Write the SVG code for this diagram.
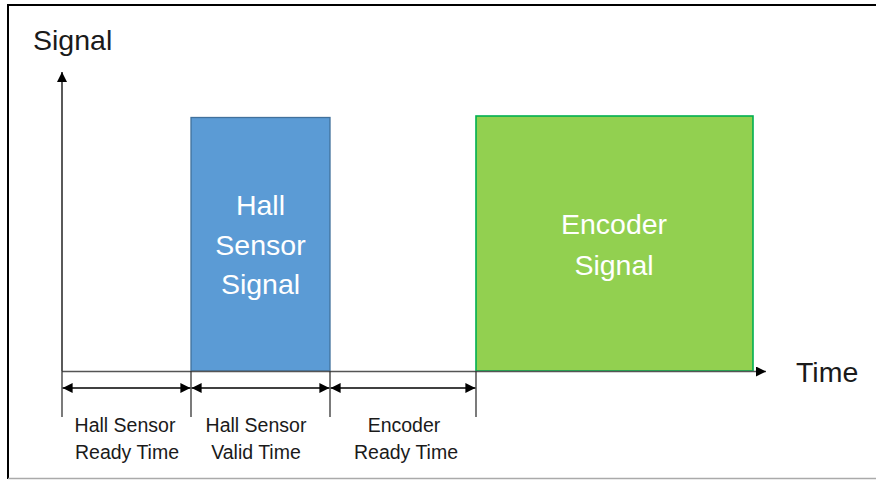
<svg xmlns="http://www.w3.org/2000/svg" width="876" height="480" viewBox="0 0 876 480">
<style>
.big{font-family:"Liberation Sans",Arial,sans-serif;font-size:28.5px;fill:#1a1a1a}
.in{font-family:"Liberation Sans",Arial,sans-serif;font-size:28.5px;fill:#ffffff;text-anchor:middle}
.lbl{font-family:"Liberation Sans",Arial,sans-serif;font-size:19.5px;fill:#1a1a1a;text-anchor:middle}
.tick{stroke:#333;stroke-width:1.3}
.dim{stroke:#000;stroke-width:1.3;marker-start:url(#ah);marker-end:url(#ah)}
</style>
<defs>
<marker id="ah" viewBox="0 0 10 10" refX="10" refY="5" markerWidth="11" markerHeight="10" markerUnits="userSpaceOnUse" orient="auto-start-reverse">
<path d="M0,0 L10,5 L0,10 Z" fill="#000"/>
</marker>
<marker id="ax" viewBox="0 0 10 10" refX="10" refY="5" markerWidth="12" markerHeight="10" markerUnits="userSpaceOnUse" orient="auto">
<path d="M0,0 L10,5 L0,10 Z" fill="#000"/>
</marker>
</defs>
<rect width="876" height="480" fill="#fff"/>
<g id="frame">
<line x1="8" y1="5" x2="876" y2="5" stroke="#000" stroke-width="2"/>
<line x1="8" y1="4" x2="8" y2="479" stroke="#000" stroke-width="2"/>
<line x1="8" y1="478.5" x2="876" y2="478.5" stroke="#aaa" stroke-width="1.5"/>
</g>
<g id="hall">
<rect x="191" y="117.5" width="139" height="253.5" fill="#5B9BD5" stroke="#41719C" stroke-width="1.3"/>
<text class="in" x="260.5" y="215">Hall</text>
<text class="in" x="260.5" y="255">Sensor</text>
<text class="in" x="260.5" y="294">Signal</text>
</g>
<g id="encoder">
<rect x="476" y="116" width="277" height="255" fill="#92D050" stroke="#00B050" stroke-width="1.6"/>
<text class="in" x="614" y="234">Encoder</text>
<text class="in" x="614" y="275">Signal</text>
</g>
<g id="connectors">
<line x1="62" y1="371" x2="62" y2="72" stroke="#000" stroke-width="1.3" marker-end="url(#ax)"/>
<line x1="62" y1="371.5" x2="766" y2="371.5" stroke="#555" stroke-width="1.3" marker-end="url(#ax)"/>
<line class="tick" x1="62" y1="371" x2="62" y2="417"/>
<line class="tick" x1="191" y1="371" x2="191" y2="417"/>
<line class="tick" x1="330" y1="371" x2="330" y2="417"/>
<line class="tick" x1="476" y1="371" x2="476" y2="417"/>
<line class="dim" x1="62.6" y1="388" x2="190.4" y2="388"/>
<line class="dim" x1="191.6" y1="388" x2="329.4" y2="388"/>
<line class="dim" x1="330.6" y1="388" x2="475.4" y2="388"/>
</g>
<g id="labels">
<text class="big" x="33" y="50">Signal</text>
<text class="big" x="796" y="382">Time</text>
<text class="lbl" x="125" y="432">Hall Sensor</text>
<text class="lbl" x="127" y="459">Ready Time</text>
<text class="lbl" x="256" y="432">Hall Sensor</text>
<text class="lbl" x="256" y="459">Valid Time</text>
<text class="lbl" x="404" y="432">Encoder</text>
<text class="lbl" x="406" y="459">Ready Time</text>
</g>
</svg>
